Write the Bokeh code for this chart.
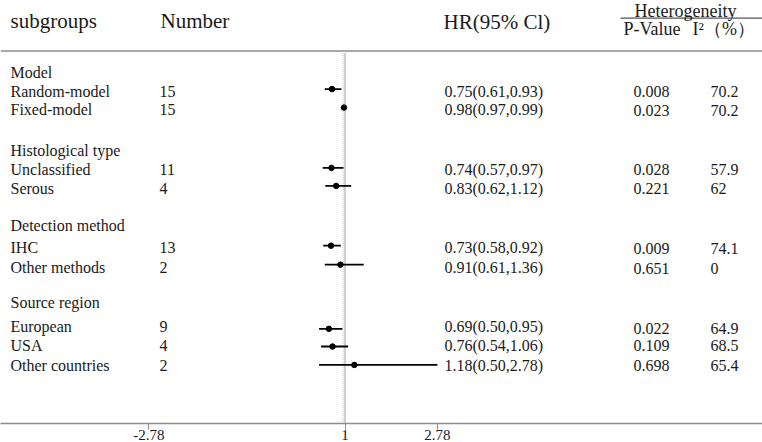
from bokeh.plotting import figure
from bokeh.models import Range1d, FixedTicker
from bokeh.core.properties import value
from bokeh.embed import file_html
from bokeh.resources import INLINE

# ---------------- data ----------------
groups = ["Model", "Histological type", "Detection method", "Source region"]
subgroups = ["Random-model", "Fixed-model", "Unclassified", "Serous", "IHC",
             "Other methods", "European", "USA", "Other countries"]
numbers = [15, 15, 11, 4, 13, 2, 9, 4, 2]
hr = [0.75, 0.98, 0.74, 0.83, 0.73, 0.91, 0.69, 0.76, 1.18]
hr_low = [0.61, 0.97, 0.57, 0.62, 0.58, 0.61, 0.50, 0.54, 0.50]
hr_high = [0.93, 0.99, 0.97, 1.12, 0.92, 1.36, 0.95, 1.06, 2.78]
p_values = ["0.008", "0.023", "0.028", "0.221", "0.009", "0.651", "0.022", "0.109", "0.698"]
i2_values = ["70.2", "70.2", "57.9", "62", "74.1", "0", "64.9", "68.5", "65.4"]
x_ticks = [-2.78, 1, 2.78]
x_tick_labels = ["-2.78", "1", "2.78"]
headers = ["subgroups", "Number", "HR(95% Cl)"]
het_title = "Heterogeneity"
het_headers = ["P-Value", "I²（%）"]

# ---------------- layout (pixel positions, not data) ----------------
W, H = 762, 442
PX_PER_UNIT = 51.9
X_ONE_PX = 344.5
FRAME_BOTTOM = 418.7
GROUP_ROW_Y = [71, 148, 222.5, 299]
SUB_ROW_Y = [90, 108, 167, 186.5, 244.5, 264.5, 323, 341.5, 361.5]
MARK_ROW_Y = [87.7, 106, 165.7, 183.5, 242.7, 261.5, 325, 342.5, 360.7]
STAT_ROW_Y = [90.5, 108.5, 167, 186.5, 245, 265, 325, 341, 361.2]


def px(xp):
    """convert a horizontal layout pixel position into HR units"""
    return 1 + (xp - X_ONE_PX) / PX_PER_UNIT


x_start, x_end = px(0), px(W)

FONT = value("Liberation Serif")
TXT = "#1a1a1a"

p = figure(width=W, height=H, x_range=Range1d(x_start, x_end),
           y_range=Range1d(FRAME_BOTTOM, 0), output_backend="svg",
           toolbar_location=None, y_axis_location=None, min_border=0,
           outline_line_color=None)
p.grid.visible = False
p.background_fill_color = "white"

# axis
ax = p.xaxis[0]
ax.ticker = FixedTicker(ticks=x_ticks)
ax.major_label_overrides = {t: l for t, l in zip(x_ticks, x_tick_labels)}
ax.axis_line_color = "#8c8c8c"
ax.axis_line_width = 1.5
ax.major_tick_line_color = "#8c8c8c"
ax.major_tick_out = 6
ax.major_tick_in = 0
ax.minor_tick_line_color = None
ax.major_label_text_font = "Liberation Serif"
ax.major_label_text_font_size = "15px"
ax.major_label_text_color = TXT
ax.major_label_standoff = 0

# reference line at HR = 1
p.segment(x0=[1 - 1.8 / PX_PER_UNIT], y0=[52], x1=[1 - 1.8 / PX_PER_UNIT], y1=[FRAME_BOTTOM],
          line_color="#c8c8c8", line_width=1, line_dash="1 1")
p.segment(x0=[1], y0=[52], x1=[1], y1=[FRAME_BOTTOM], line_color="#b0b0b0", line_width=1.2)

# rules
p.segment(x0=[x_start], y0=[50], x1=[x_end], y1=[50], line_color="#8c8c8c", line_width=1.5)
p.segment(x0=[px(620)], y0=[17.5], x1=[x_end], y1=[17.5], line_color="#555555", line_width=1.2)

# forest marks
p.segment(x0=hr_low, y0=MARK_ROW_Y, x1=hr_high, y1=MARK_ROW_Y, line_color="black", line_width=1.8)
p.scatter(x=hr, y=MARK_ROW_Y, size=5.5, color="black")

# headers
p.text(x=[px(10), px(160), px(443)], y=[20, 20, 21], text=headers, text_font=FONT,
       text_font_size="21px", text_baseline="middle", text_color=TXT)
p.text(x=[px(634)], y=[10], text=[het_title], text_font=FONT, text_font_size="18px",
       text_baseline="middle", text_color=TXT)
p.text(x=[px(623), px(692)], y=[28, 28], text=het_headers, text_font=FONT,
       text_font_size="18px", text_baseline="middle", text_color=TXT)

# table text
p.text(x=[px(10)] * len(groups), y=GROUP_ROW_Y, text=groups, text_font=FONT,
       text_font_size="16px", text_baseline="middle", text_color=TXT)
p.text(x=[px(10)] * len(subgroups), y=SUB_ROW_Y, text=subgroups, text_font=FONT,
       text_font_size="16px", text_baseline="middle", text_color=TXT)
p.text(x=[px(159)] * len(numbers), y=SUB_ROW_Y, text=[str(n) for n in numbers], text_font=FONT,
       text_font_size="16px", text_baseline="middle", text_color=TXT)
hr_text = ["%.2f(%.2f,%.2f)" % (a, b, c) for a, b, c in zip(hr, hr_low, hr_high)]
p.text(x=[px(444)] * len(hr_text), y=SUB_ROW_Y, text=hr_text, text_font=FONT,
       text_font_size="16px", text_baseline="middle", text_color=TXT)
p.text(x=[px(633)] * len(p_values), y=STAT_ROW_Y, text=p_values, text_font=FONT,
       text_font_size="16px", text_baseline="middle", text_color=TXT)
p.text(x=[px(710)] * len(i2_values), y=STAT_ROW_Y, text=i2_values, text_font=FONT,
       text_font_size="16px", text_baseline="middle", text_color=TXT)

open("out.html", "w").write(file_html(p, INLINE))
